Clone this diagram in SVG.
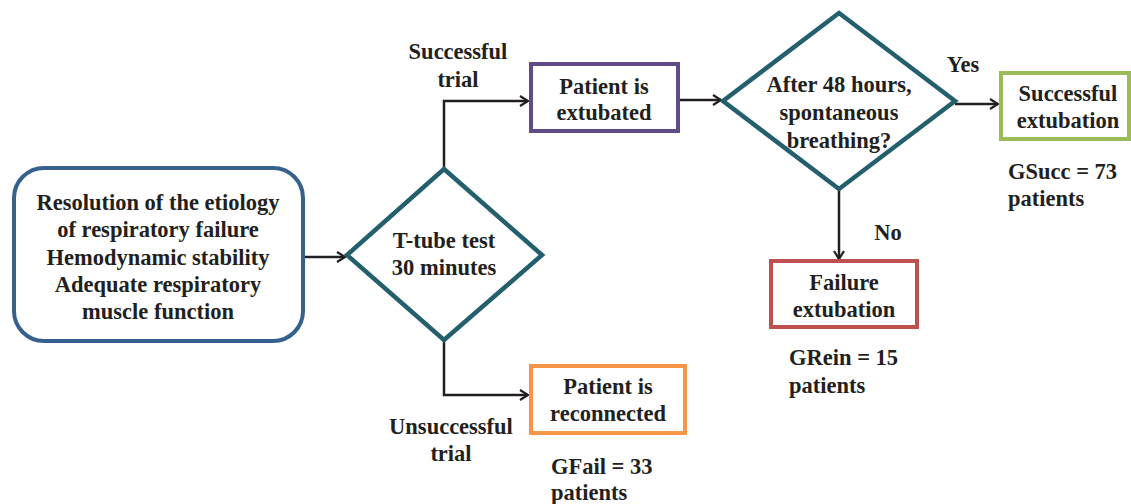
<svg xmlns="http://www.w3.org/2000/svg" width="1131" height="504" viewBox="0 0 1131 504">
<style>
text{font-family:"Liberation Serif","Times New Roman",serif;font-weight:bold;font-size:22.5px;fill:#231f20;}
.c{text-anchor:middle;}
.l{text-anchor:start;}
.conn{fill:none;stroke:#231f20;stroke-width:2.5;}
.dia{fill:#fff;stroke:#245f6e;stroke-width:4.5;stroke-linejoin:miter;}
.box{fill:#fff;stroke-width:4;}
</style>
<defs>
<marker id="arr" viewBox="0 0 12 12" refX="10" refY="6" markerWidth="12" markerHeight="12" markerUnits="userSpaceOnUse" orient="auto">
<path d="M2,1 L10,6 L2,11" fill="none" stroke="#231f20" stroke-width="2.2"/>
</marker>
</defs>
<rect width="1131" height="504" fill="#fff"/>
<g id="connectors">
<path class="conn" d="M303,257 H345" marker-end="url(#arr)"/>
<path class="conn" d="M444,169 V101 H528" marker-end="url(#arr)"/>
<path class="conn" d="M444,340 V395 H528" marker-end="url(#arr)"/>
<path class="conn" d="M678,100 H721" marker-end="url(#arr)"/>
<path class="conn" d="M955,104 H998" marker-end="url(#arr)"/>
<path class="conn" d="M839,190 V259" marker-end="url(#arr)"/>
<text class="c" x="458" y="59">Successful</text>
<text class="c" x="458" y="87">trial</text>
<text class="c" x="451" y="434">Unsuccessful</text>
<text class="c" x="451" y="461">trial</text>
<text class="c" x="963" y="72">Yes</text>
<text class="c" x="888" y="240">No</text>
</g>
<g id="criteria">
<rect x="14" y="168" width="289" height="173" rx="30" ry="30" fill="#fff" stroke="#36618f" stroke-width="4"/>
<text class="c" x="158" y="210">Resolution of the etiology</text>
<text class="c" x="158" y="237">of respiratory failure</text>
<text class="c" x="158" y="265">Hemodynamic stability</text>
<text class="c" x="158" y="292">Adequate respiratory</text>
<text class="c" x="158" y="319">muscle function</text>
</g>
<g id="ttube">
<polygon class="dia" points="444,169 542,255 444,340 347,255"/>
<text class="c" x="444" y="248">T-tube test</text>
<text class="c" x="444" y="275">30 minutes</text>
</g>
<g id="extubated">
<rect class="box" x="531" y="64" width="147" height="67" stroke="#604a87"/>
<text class="c" x="604" y="94">Patient is</text>
<text class="c" x="604" y="120">extubated</text>
</g>
<g id="reconnected">
<rect class="box" x="531" y="366" width="154" height="67" stroke="#f79646"/>
<text class="c" x="608" y="394">Patient is</text>
<text class="c" x="608" y="421">reconnected</text>
<text class="l" x="551" y="474">GFail = 33</text>
<text class="l" x="551" y="500">patients</text>
</g>
<g id="after48">
<polygon class="dia" points="839,13 955,101 839,189 723,101"/>
<text class="c" x="839" y="92">After 48 hours,</text>
<text class="c" x="839" y="120">spontaneous</text>
<text class="c" x="839" y="148">breathing?</text>
</g>
<g id="success">
<rect class="box" x="1001" y="73" width="128" height="66" stroke="#9bbb59"/>
<text class="c" x="1068" y="101">Successful</text>
<text class="c" x="1068" y="128">extubation</text>
<text class="l" x="1008" y="179">GSucc = 73</text>
<text class="l" x="1008" y="206">patients</text>
</g>
<g id="failure">
<rect class="box" x="771" y="261" width="146" height="66" stroke="#c0504d"/>
<text class="c" x="844" y="290">Failure</text>
<text class="c" x="844" y="317">extubation</text>
<text class="l" x="789" y="365">GRein = 15</text>
<text class="l" x="789" y="393">patients</text>
</g>
</svg>
